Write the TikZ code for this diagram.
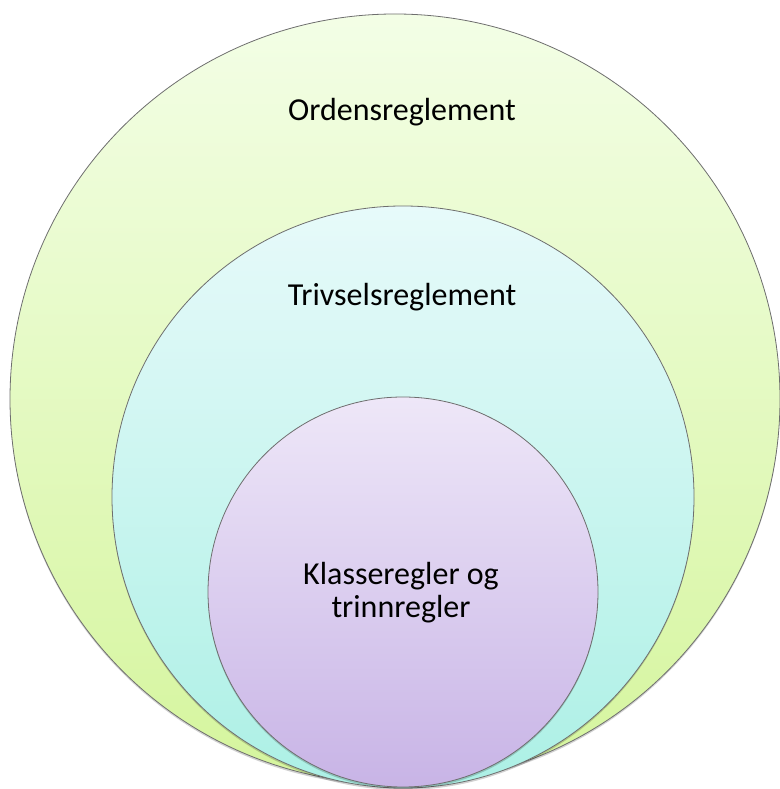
\documentclass[tikz,border=0pt]{standalone}
\usepackage{fontspec}
\setmainfont{Carlito}
\definecolor{otop}{HTML}{F3FEE6}
\definecolor{obot}{HTML}{D5F59D}
\definecolor{mtop}{HTML}{E7FAFA}
\definecolor{mbot}{HTML}{ACF0E5}
\definecolor{itop}{HTML}{EEE7F8}
\definecolor{ibot}{HTML}{C8B4E6}
\definecolor{edge}{HTML}{6E6E6E}
\tikzset{
  ring/.style={draw=edge, line width=0.8pt},
  shadowring/.style={fill=black, opacity=0.18},
  lbl/.style={font=\fontsize{32}{33}\selectfont, align=center, text=black}
}
\begin{document}
\begin{tikzpicture}[x=1pt,y=1pt]
\useasboundingbox (0,0) rectangle (779,789);
% outer
\fill[shadowring] (395,388) circle (385);
\shade[ring, top color=otop, bottom color=obot] (395,390) circle (385);
% middle
\fill[shadowring] (403,290) circle (291);
\shade[ring, top color=mtop, bottom color=mbot] (403,292) circle (291);
% inner
\fill[shadowring] (403,195) circle (195);
\shade[ring, top color=itop, bottom color=ibot] (403,197) circle (195);
\node[lbl] (ord) at (402,677) {Ordensreglement};
\node[lbl] (triv) at (402,492) {Trivselsreglement};
\node[lbl] (kl) at (401,196) {Klasseregler og\\trinnregler};
\end{tikzpicture}
\end{document}
